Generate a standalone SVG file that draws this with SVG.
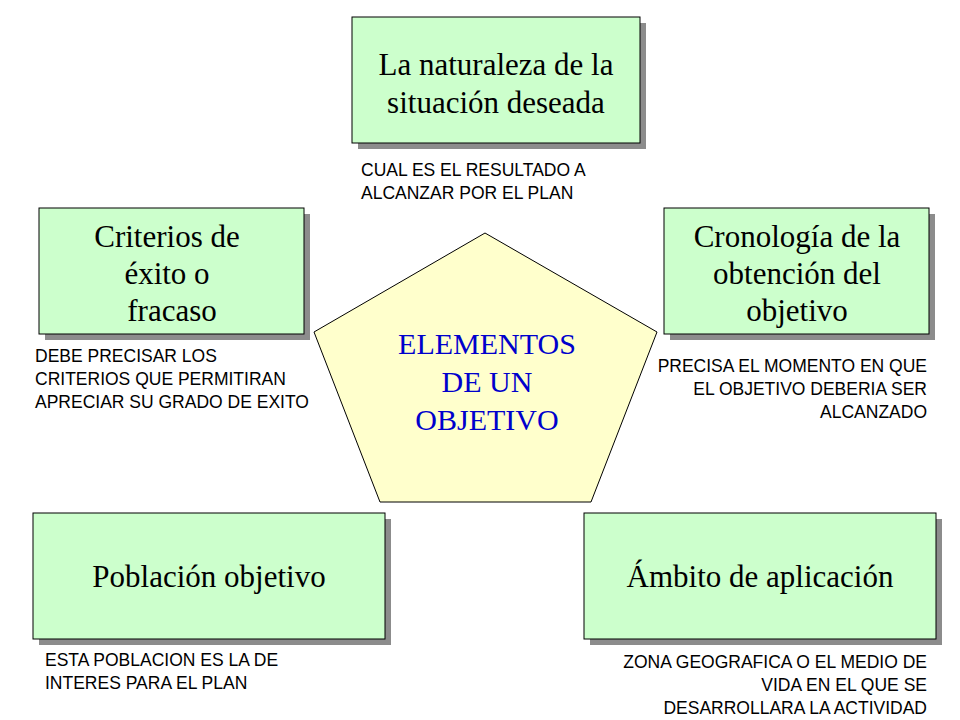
<svg xmlns="http://www.w3.org/2000/svg" width="960" height="720" viewBox="0 0 960 720">
<style>
.sh{fill:#8c8c8c}
.bx{fill:#ccffcc;stroke:#000;stroke-width:1}
.t{font-family:"Liberation Serif",serif;font-size:31px;fill:#000;text-anchor:middle}
.s{font-family:"Liberation Sans",sans-serif;font-size:17.5px;fill:#000;letter-spacing:0px}
.c{font-family:"Liberation Serif",serif;font-size:30px;fill:#0000cc;text-anchor:middle}
</style>
<rect width="960" height="720" fill="#fff"/>
<g id="center">
<polygon points="485,233 657,332 591,502 380,502 314,332" fill="#ffffcc" stroke="#000"/>
<text class="c" x="487" y="354">ELEMENTOS</text>
<text class="c" x="487" y="392">DE UN</text>
<text class="c" x="487" y="430">OBJETIVO</text>
</g>
<g id="n1">
<rect class="sh" x="358" y="23" width="288" height="126"/>
<rect class="bx" x="352" y="17" width="288" height="126"/>
<text class="t" x="496" y="75">La naturaleza de la</text>
<text class="t" x="496" y="113">situación deseada</text>
<text class="s" x="361" y="176">CUAL ES EL RESULTADO A</text>
<text class="s" x="361" y="199">ALCANZAR POR EL PLAN</text>
</g>
<g id="n2">
<rect class="sh" x="45" y="214" width="265" height="126"/>
<rect class="bx" x="39" y="208" width="265" height="126"/>
<text class="t" x="167" y="247">Criterios de</text>
<text class="t" x="167" y="284">éxito o</text>
<text class="t" x="172" y="321">fracaso</text>
<text class="s" x="35" y="362">DEBE PRECISAR LOS</text>
<text class="s" x="35" y="385">CRITERIOS QUE PERMITIRAN</text>
<text class="s" x="35" y="408">APRECIAR SU GRADO DE EXITO</text>
</g>
<g id="n3">
<rect class="sh" x="670" y="214" width="265" height="126"/>
<rect class="bx" x="664" y="208" width="265" height="126"/>
<text class="t" x="797" y="247">Cronología de la</text>
<text class="t" x="797" y="284">obtención del</text>
<text class="t" x="797" y="321">objetivo</text>
<g style="text-anchor:end">
<text class="s" x="927" y="372">PRECISA EL MOMENTO EN QUE</text>
<text class="s" x="927" y="395">EL OBJETIVO DEBERIA SER</text>
<text class="s" x="927" y="418">ALCANZADO</text>
</g>
</g>
<g id="n4">
<rect class="sh" x="39" y="519" width="352" height="126"/>
<rect class="bx" x="33" y="513" width="352" height="126"/>
<text class="t" x="209" y="587">Población objetivo</text>
<text class="s" x="45" y="666">ESTA POBLACION ES LA DE</text>
<text class="s" x="45" y="689">INTERES PARA EL PLAN</text>
</g>
<g id="n5">
<rect class="sh" x="590" y="519" width="352" height="126"/>
<rect class="bx" x="584" y="513" width="352" height="126"/>
<text class="t" x="760" y="587">Ámbito de aplicación</text>
<g style="text-anchor:end">
<text class="s" x="927" y="668">ZONA GEOGRAFICA O EL MEDIO DE</text>
<text class="s" x="927" y="691">VIDA EN EL QUE SE</text>
<text class="s" x="927" y="714">DESARROLLARA LA ACTIVIDAD</text>
</g>
</g>
<g id="connectors"></g>
</svg>
